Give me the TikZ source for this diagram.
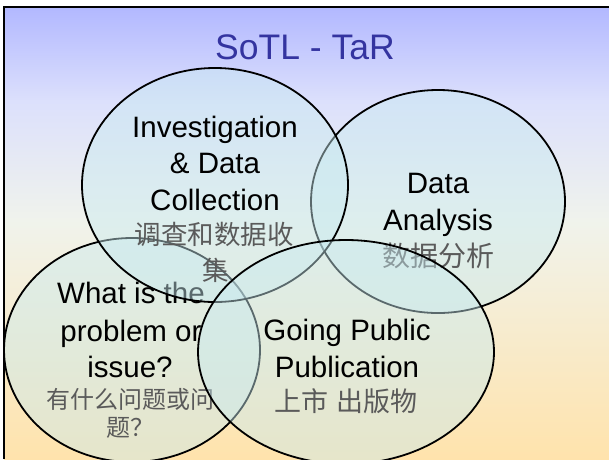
\documentclass[tikz,border=0pt]{standalone}
\usepackage{fontspec}
\setmainfont{Liberation Sans}
\newfontfamily\cjk{Noto Sans CJK SC}
\usetikzlibrary{shapes.geometric}
\definecolor{bgtop}{RGB}{178,184,255}
\definecolor{bgmidA}{RGB}{220,224,252}
\definecolor{bgmid}{RGB}{240,243,236}
\definecolor{bgbot}{RGB}{255,227,172}
\definecolor{vennfill}{RGB}{200,234,240}
\definecolor{titleblue}{RGB}{52,52,160}
\definecolor{cjkgray}{RGB}{90,90,90}
\begin{document}
\begin{tikzpicture}[x=1pt,y=-1pt,
  venn/.style={ellipse, draw=black, line width=1.8pt, fill=vennfill, fill opacity=0.45, inner sep=0pt},
  en/.style={font=\fontsize{29.5}{30}\selectfont, anchor=base, inner sep=0pt, text=black},
  zh/.style={font=\cjk\fontsize{#1}{#1}\selectfont, anchor=base, inner sep=0pt, text=cjkgray},
  titletext/.style={font=\fontsize{35.5}{36}\selectfont, anchor=base, inner sep=0pt, text=titleblue}]
\useasboundingbox (0,0) rectangle (609,459);
% background
\fill[white] (0,0) rectangle (609,459);
\shade[top color=bgtop, bottom color=bgmidA] (4,7) rectangle (609,101);
\shade[top color=bgmidA, bottom color=bgmid] (4,100) rectangle (609,221);
\shade[top color=bgmid, bottom color=bgbot] (4,220) rectangle (609,459);
% frame
\coordinate (fbl) at (4,459);
\coordinate (ftl) at (4,7);
\coordinate (ftr) at (609,7);
\draw[line width=2pt] (fbl) -- (ftl) -- (ftr);
% title
\node[titletext] (title) at (305,59) {SoTL - TaR};
% Data Analysis
\node[venn, minimum width=254pt, minimum height=223pt] (da) at (438,201.5) {};
\node[en] (da1) at (438,193) {Data};
\node[en] (da2) at (438,230) {Analysis};
\node[zh=28] (da3) at (438,266) {数据分析};
% Problem
\node[venn, minimum width=256pt, minimum height=224pt] (prob) at (132,350) {};
\node[en] (pr1) at (131,303) {What is the};
\node[en] (pr2) at (131,341) {problem or};
\node[en] (pr3) at (130,377) {issue?};
\node[zh=24] (pr4) at (130.5,408) {有什么问题或问};
\node[zh=24] (pr5) at (130,436) {题？};
% Investigation
\node[venn, minimum width=266pt, minimum height=234pt] (inv) at (215,185) {};
\node[en] (in1) at (215,137) {Investigation};
\node[en] (in2) at (215,173) {\& Data};
\node[en] (in3) at (215,210) {Collection};
\node[zh=26.5] (in4) at (214,244) {调查和数据收};
\node[zh=26.5] (in5) at (216,280) {集};
% Going Public
\node[venn, minimum width=296pt, minimum height=224pt] (gp) at (346,352) {};
\node[en] (gp1) at (347,340) {Going Public};
\node[en] (gp2) at (347,377) {Publication};
\node[zh=27] (gp3) at (346,411) {上市\hspace{0.3em}出版物};
\end{tikzpicture}
\end{document}
